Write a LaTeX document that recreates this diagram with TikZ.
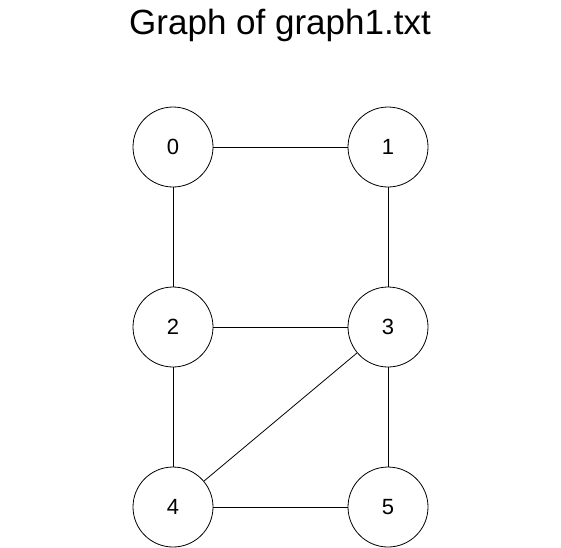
\documentclass[tikz,border=0pt]{standalone}
\usepackage{fontspec}
\setmainfont{Liberation Sans}

\tikzset{
  vertex/.style={circle, draw, minimum size=80pt, inner sep=0pt,
    font=\fontsize{22}{26}\selectfont},
  edge/.style={line width=0.8pt}
}

\begin{document}
\begin{tikzpicture}[x=1pt, y=-1pt, line width=0.8pt]
    \useasboundingbox (0,0) rectangle (561,547);

    \node[anchor=base, font=\fontsize{35}{40}\selectfont] (title) at (280,34) {Graph of graph1.txt};

    \node[vertex] (v0) at (173,147) {0};
    \node[vertex] (v1) at (388,147) {1};
    \node[vertex] (v2) at (173,327) {2};
    \node[vertex] (v3) at (388,327) {3};
    \node[vertex] (v4) at (173,507) {4};
    \node[vertex] (v5) at (388,507) {5};

    \draw[edge] (v0) -- (v1);
    \draw[edge] (v0) -- (v2);
    \draw[edge] (v1) -- (v3);
    \draw[edge] (v2) -- (v3);
    \draw[edge] (v2) -- (v4);
    \draw[edge] (v3) -- (v4);
    \draw[edge] (v3) -- (v5);
    \draw[edge] (v4) -- (v5);
\end{tikzpicture}
\end{document}
